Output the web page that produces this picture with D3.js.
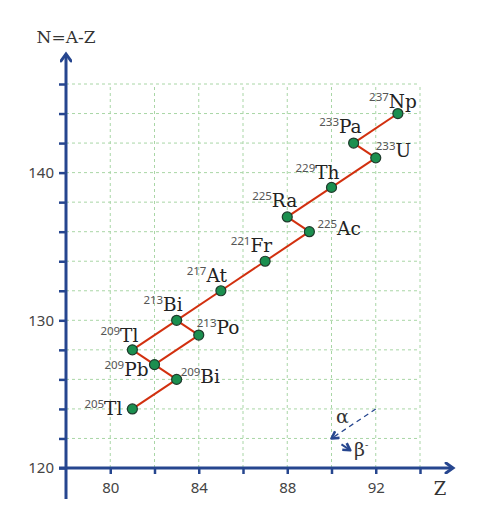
<!DOCTYPE html>
<html>
<head>
<meta charset="utf-8">
<script src="https://cdn.jsdelivr.net/npm/d3@7"></script>
<style>
  html, body { margin: 0; padding: 0; background: #fff; }
  svg { display: block; }
</style>
</head>
<body>
<svg id="chart" width="484" height="530"></svg>
<script>
// ---- data ----
const elements   = ["Np", "Pa", "U", "Th", "Ra", "Ac", "Fr", "At", "Bi", "Po", "Tl", "Pb", "Bi", "Tl"];
const massNumber = [237, 233, 233, 229, 225, 225, 221, 217, 213, 213, 209, 209, 209, 205];
const protonZ    = [93, 91, 92, 90, 88, 89, 87, 85, 83, 84, 81, 82, 83, 81];
const neutronN   = [144, 142, 141, 139, 137, 136, 134, 132, 130, 129, 128, 127, 126, 124];
// decay links (from index, to index)
const decayFrom  = [0, 1, 2, 3, 4, 5, 6, 7, 8, 10, 11, 12, 8, 9];
const decayTo    = [1, 2, 3, 4, 5, 6, 7, 8, 10, 11, 12, 13, 9, 11];
const xTicks     = [80, 82, 84, 86, 88, 90, 92, 94];
const xTickLabels = [80, 84, 88, 92];
const yTicks     = [122, 124, 126, 128, 130, 132, 134, 136, 138, 140, 142, 144, 146];
const yTickLabels = [120, 130, 140];
// legend arrows (Z, N)
const alphaArrow = [[92, 124], [90, 122]];
const betaArrow  = [[90.45, 121.6], [90.85, 121.2]];

// ---- label placement (layout) ----
const labelAnchor = ["end", "end", "start", "end", "end", "start", "end", "end", "end", "start", "end", "end", "start", "end"];
const labelDx     = [19, 8, 0, 8, 10, 8, 7, 6, 6, -2, 6, -6, 4, -10];
const labelDy     = [-6, -10, -1, -8, -10, 3, -9, -9, -9, -1, -8, 11, 4, 6];

const svg = d3.select("#chart");
const x = d3.scaleLinear().domain([78, 94]).range([66, 420]);
const y = d3.scaleLinear().domain([120, 146]).range([468, 84]);

const axisColor = "#26468f";
const gridColor = "#a9d6a6";

// grid
const grid = svg.append("g");
grid.selectAll("line.v").data(xTicks).enter().append("line")
  .attr("x1", d => x(d)).attr("x2", d => x(d))
  .attr("y1", y(120)).attr("y2", y(146))
  .attr("stroke", gridColor).attr("stroke-width", 1).attr("stroke-dasharray", "3,3");
grid.selectAll("line.h").data(yTicks).enter().append("line")
  .attr("x1", x(78)).attr("x2", x(94))
  .attr("y1", d => y(d)).attr("y2", d => y(d))
  .attr("stroke", gridColor).attr("stroke-width", 1).attr("stroke-dasharray", "3,3");

// axes via d3 axis generators
const xAxis = d3.axisBottom(x).tickValues(xTicks).tickSize(6).tickPadding(5)
  .tickFormat(d => xTickLabels.includes(d) ? d : "");
const gx = svg.append("g").attr("transform", `translate(0,${y(120)})`).call(xAxis);
gx.select(".domain").remove();
gx.selectAll(".tick line").attr("stroke", axisColor).attr("stroke-width", 2.5);
gx.selectAll(".tick text").attr("font-family", "'Noto Sans', sans-serif").attr("font-size", 15).attr("fill", "#444").attr("dy", "0.95em");

const yAxis = d3.axisLeft(y).tickValues([120].concat(yTicks)).tickSize(7).tickPadding(5)
  .tickFormat(d => yTickLabels.includes(d) ? d : "");
const gy = svg.append("g").attr("transform", `translate(${x(78)},0)`).call(yAxis);
gy.select(".domain").remove();
gy.selectAll(".tick line").attr("stroke", axisColor).attr("stroke-width", 2.5);
gy.selectAll(".tick text").attr("font-family", "'Noto Sans', sans-serif").attr("font-size", 15).attr("fill", "#444");

// axis lines with arrowheads
const defs = svg.append("defs");
defs.append("marker").attr("id", "axArrow").attr("viewBox", "0 0 12 12")
  .attr("refX", 9).attr("refY", 6).attr("markerWidth", 12).attr("markerHeight", 12)
  .attr("markerUnits", "userSpaceOnUse").attr("orient", "auto")
  .append("path").attr("d", "M2,1 L9,6 L2,11").attr("fill", "none")
  .attr("stroke", axisColor).attr("stroke-width", 3).attr("stroke-linecap", "round");
defs.append("marker").attr("id", "legArrow").attr("viewBox", "0 0 10 10")
  .attr("refX", 8).attr("refY", 5).attr("markerWidth", 10).attr("markerHeight", 10)
  .attr("markerUnits", "userSpaceOnUse").attr("orient", "auto")
  .append("path").attr("d", "M1,1 L8,5 L1,9").attr("fill", "none")
  .attr("stroke", axisColor).attr("stroke-width", 2.6).attr("stroke-linejoin", "round");

svg.append("line").attr("x1", x(78)).attr("x2", x(78))
  .attr("y1", 499).attr("y2", 54)
  .attr("stroke", axisColor).attr("stroke-width", 3).attr("marker-end", "url(#axArrow)");
svg.append("line").attr("x1", x(78) - 7).attr("x2", 453)
  .attr("y1", y(120)).attr("y2", y(120))
  .attr("stroke", axisColor).attr("stroke-width", 3).attr("marker-end", "url(#axArrow)");

// axis titles
svg.append("text").attr("x", 440).attr("y", 495).attr("text-anchor", "middle")
  .attr("font-family", "'DejaVu Serif', serif").attr("font-size", 18).attr("fill", "#333").text("Z");
svg.append("text").attr("x", 66).attr("y", 43).attr("text-anchor", "middle")
  .attr("font-family", "'DejaVu Serif', serif").attr("font-size", 17).attr("fill", "#333").text("N=A-Z");

// legend
svg.append("line")
  .attr("x1", x(alphaArrow[0][0])).attr("y1", y(alphaArrow[0][1]))
  .attr("x2", x(alphaArrow[1][0])).attr("y2", y(alphaArrow[1][1]))
  .attr("stroke", axisColor).attr("stroke-width", 1.3).attr("stroke-dasharray", "5,4")
  .attr("marker-end", "url(#legArrow)");
svg.append("line")
  .attr("x1", x(betaArrow[0][0])).attr("y1", y(betaArrow[0][1]))
  .attr("x2", x(betaArrow[1][0])).attr("y2", y(betaArrow[1][1]))
  .attr("stroke", axisColor).attr("stroke-width", 2)
  .attr("marker-end", "url(#legArrow)");
svg.append("text").attr("x", 336).attr("y", 423)
  .attr("font-family", "'DejaVu Serif', serif").attr("font-size", 19).attr("fill", "#333").text("α");
const bt = svg.append("text").attr("x", 354).attr("y", 456)
  .attr("font-family", "'DejaVu Serif', serif").attr("font-size", 19).attr("fill", "#333");
bt.append("tspan").text("β");
bt.append("tspan").attr("font-size", 10).attr("dy", -8).text("-");

// decay links
const links = decayFrom.map((f, i) => [f, decayTo[i]]);
svg.append("g").selectAll("line").data(links).enter().append("line")
  .attr("x1", d => x(protonZ[d[0]])).attr("y1", d => y(neutronN[d[0]]))
  .attr("x2", d => x(protonZ[d[1]])).attr("y2", d => y(neutronN[d[1]]))
  .attr("stroke", "#d2300f").attr("stroke-width", 2);

// nuclide points
const idx = d3.range(elements.length);
svg.append("g").selectAll("circle").data(idx).enter().append("circle")
  .attr("cx", i => x(protonZ[i])).attr("cy", i => y(neutronN[i]))
  .attr("r", 5).attr("fill", "#1b8f4f").attr("stroke", "#1f3a2c").attr("stroke-width", 1.2);

// labels
const lbl = svg.append("g").selectAll("text").data(idx).enter().append("text")
  .attr("x", i => x(protonZ[i]) + labelDx[i])
  .attr("y", i => y(neutronN[i]) + labelDy[i])
  .attr("text-anchor", i => labelAnchor[i]);
lbl.append("tspan")
  .attr("font-family", "'Noto Sans', sans-serif").attr("font-size", 11.5).attr("fill", "#555")
  .attr("dy", -7).text(i => massNumber[i]);
lbl.append("tspan")
  .attr("font-family", "'DejaVu Serif', serif").attr("font-size", 18.5).attr("fill", "#222")
  .attr("dy", 7).text(i => elements[i]);
</script>
</body>
</html>
